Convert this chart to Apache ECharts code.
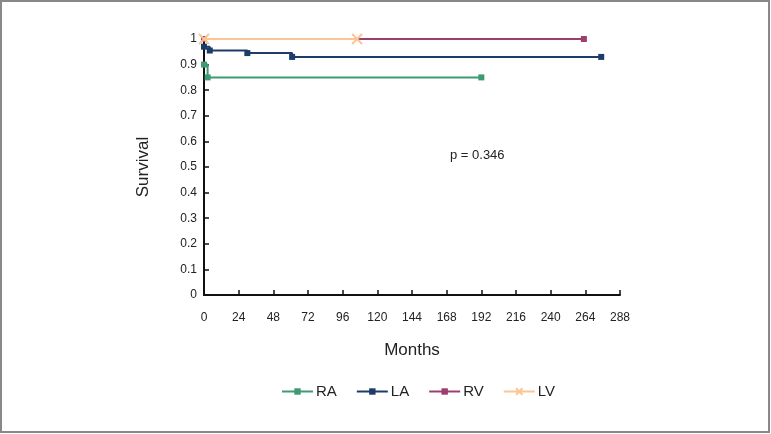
<!DOCTYPE html>
<html><head><meta charset="utf-8">
<script src="https://cdn.jsdelivr.net/npm/echarts@6/dist/echarts.min.js"></script>
<style>html,body{margin:0;padding:0;background:#fff}#c{width:771px;height:434px}</style>
</head><body><div id="c"></div>
<script>
const xTicks = [0,24,48,72,96,120,144,168,192,216,240,264,288];
const yTicks = [0,0.1,0.2,0.3,0.4,0.5,0.6,0.7,0.8,0.9,1];
const raMonths = [0, 2.5, 192];
const raSurv = [0.9, 0.85, 0.85];
const laMonths = [0, 4, 30, 61, 275];
const laSurv = [0.97, 0.955, 0.945, 0.93, 0.93];
const rvMonths = [0, 263];
const rvSurv = [1, 1];
const lvMonths = [0, 106];
const lvSurv = [1, 1];
const pText = 'p = 0.346';

const FONT = '"Liberation Sans",Arial,sans-serif';
function pts(xs, ys){ return xs.map((x,i)=>[x, ys[i]]); }
const chart = echarts.init(document.getElementById('c'));
function ser(name, xs, ys, color, symbol, size, extra){
  return Object.assign({name, type:'line', step:'end', data:pts(xs,ys), symbol, symbolSize:size,
    showAllSymbol:true, lineStyle:{color, width:2}, itemStyle:{color},
    animation:false}, extra||{});
}
chart.setOption({
  animation:false,
  textStyle:{fontFamily:FONT},
  grid:{left:204, right:151, top:39, bottom:139, containLabel:false},
  xAxis:{type:'value', min:0, max:288, interval:24, name:'Months', nameLocation:'middle', nameGap:47,
    nameTextStyle:{fontSize:17, color:'#222', fontFamily:FONT},
    axisLine:{lineStyle:{color:'#111', width:2}}, axisTick:{inside:true, length:5, lineStyle:{color:'#111', width:1.5}},
    axisLabel:{fontSize:12, color:'#222', margin:17, fontFamily:FONT,
      formatter:v=> xTicks.includes(v)? String(v):''},
    splitLine:{show:false}},
  yAxis:{type:'value', min:0, max:1, interval:0.1, name:'Survival', nameLocation:'middle', nameGap:52, nameRotate:90,
    nameTextStyle:{fontSize:17, color:'#222', fontFamily:FONT},
    axisLine:{show:true, lineStyle:{color:'#111', width:2}}, axisTick:{show:true, inside:true, length:5, lineStyle:{color:'#111', width:1.5}},
    axisLabel:{fontSize:12, color:'#222', margin:7, fontFamily:FONT,
      formatter:v=>{ const r=Math.round(v*10)/10; const t=yTicks.find(q=>Math.abs(q-r)<1e-9); return t===undefined?'':String(t);} },
    splitLine:{show:false}},
  legend:{top:379, left:276, itemGap:19, itemWidth:31, itemHeight:8,
    textStyle:{fontSize:15, color:'#222', fontFamily:FONT, padding:[0,0,0,-2]},
    data:['RA','LA','RV','LV']},
  graphic:[
    {type:'rect', shape:{x:1, y:1, width:768, height:431}, style:{fill:'none', stroke:'#888', lineWidth:2}, silent:true},
    {type:'text', left:450, top:149, style:{text:pText, fontSize:13, fill:'#222', fontFamily:FONT}}
  ],
  series:[
    ser('RA', raMonths, raSurv, '#3d9a72', 'rect', 6, {z:2}),
    ser('LA', laMonths, laSurv, '#1b3d68', 'rect', 6, {z:3}),
    ser('RV', rvMonths, rvSurv, '#9c3e6e', 'rect', 6, {z:2}),
    ser('LV', lvMonths, lvSurv, '#fbc594', 'path://M0,0L10,10M10,0L0,10', 10,
      {z:4, itemStyle:{color:'#fbc594', borderColor:'#fbc594', borderWidth:2}})
  ]
});
</script></body></html>
